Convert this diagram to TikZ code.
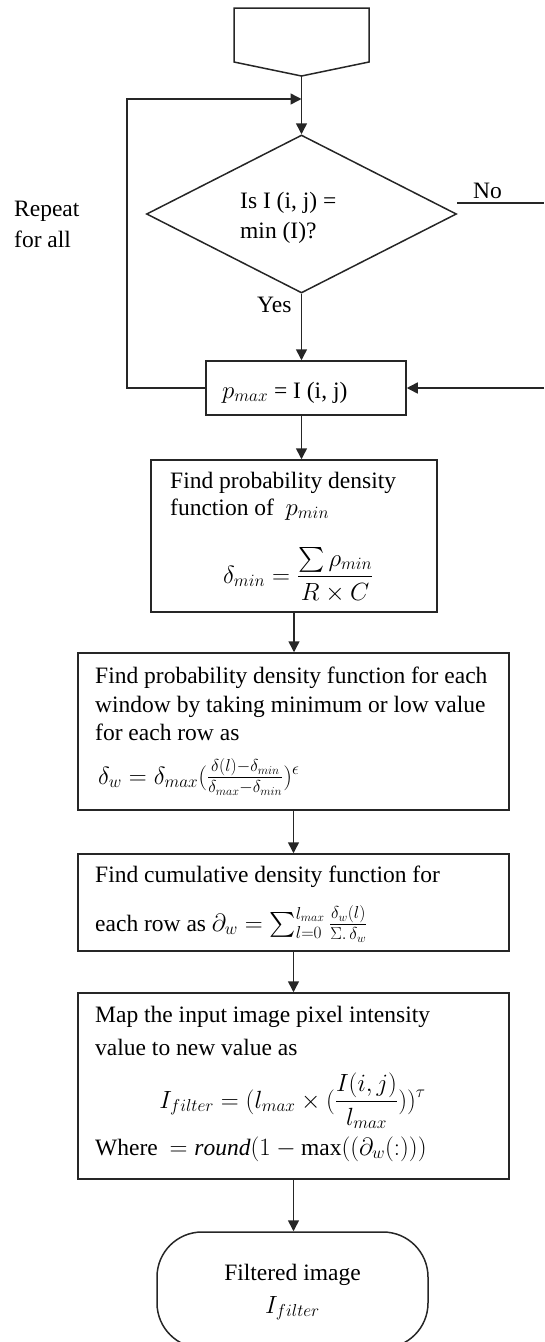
\documentclass[tikz,border=0pt]{standalone}
\usepackage{exscale}
\usepackage{fontspec}
\setmainfont{Liberation Serif}
\usetikzlibrary{arrows.meta,shapes.geometric}
\tikzset{
  conn/.style={line width=1.5pt, draw=black!85},
  arr/.style={conn, -{Triangle[length=11pt,width=11pt]}},
  procbox/.style={draw=black!85, line width=1.5pt, rectangle, inner sep=0pt},
  decision/.style={draw=black!85, line width=1.5pt, diamond, inner sep=0pt, minimum width=310pt, minimum height=158pt},
  termbox/.style={draw=black!85, line width=1.5pt, rectangle, rounded corners=45pt, inner sep=0pt},
  txt/.style={anchor=base west, inner sep=0pt, font=\fontsize{23.5}{28}\selectfont},
  ctxt/.style={anchor=base, inner sep=0pt, font=\fontsize{23.5}{28}\selectfont}
}
\begin{document}
\begin{tikzpicture}[x=1pt,y=-1pt]
\useasboundingbox (0,0) rectangle (544,1342);
\clip (0,0) rectangle (544,1342);
% off-page connector
\draw[conn] (234,8) -- (369,8) -- (369,62) -- (301.5,76) -- (234,62) -- cycle;
\coordinate (offp) at (301.5,76);
\coordinate (join) at (301.5,99);
\coordinate (lx) at (127,0);
\coordinate (noend) at (544,203);
\coordinate (inr) at (544,388);

% nodes
\node[decision] (dia) at (301.5,214) {};
\node[procbox, minimum width=200pt, minimum height=54pt] (pmax) at (306,388) {};
\node[procbox, minimum width=286pt, minimum height=152pt] (box2) at (294,536) {};
\node[procbox, minimum width=431pt, minimum height=157pt] (box3) at (293.5,731.5) {};
\node[procbox, minimum width=431pt, minimum height=97pt] (box4) at (293.5,902.5) {};
\node[procbox, minimum width=431pt, minimum height=186pt] (box5) at (293.5,1086) {};
\node[termbox, minimum width=271pt, minimum height=116pt] (term) at (292.5,1290) {};

% texts
\node[txt] (d1) at (240,208) {Is I (i, j) =};
\node[txt] (d2) at (240,238) {min (I)?};
\node[txt] (rep1) at (14,216) {Repeat};
\node[txt] (rep2) at (14,247) {for all};
\node[txt] (yes) at (257,312) {Yes};
\node[txt] (no) at (473,198) {No};
\node[txt] (pt) at (222,398) {$p_{max}$ = I (i, j)};

\node[txt] (b2a) at (170,488) {Find probability density};
\node[txt] (b2b) at (170,515) {function of \ $p_{min}$};
\node[txt] (b2c) at (223,583) {$\displaystyle \delta_{min} = \frac{\sum \rho_{min}}{R\times C}$};

\node[txt] (b3a) at (95,683) {Find probability density function for each};
\node[txt] (b3b) at (95,712) {window by taking minimum or low value};
\node[txt] (b3c) at (95,740) {for each row as};
\node[txt] (b3d) at (98,784) {$\delta_w = \delta_{max}(\frac{\delta(l)-\delta_{min}}{\delta_{max}-\delta_{min}})^{\epsilon}$};

\node[txt] (b4a) at (95,882) {Find cumulative density function for};
\node[txt] (b4b) at (95,931) {each row as $\partial_w = \sum_{l=0}^{l_{max}} \frac{\delta_w(l)}{\Sigma.\,\delta_w}$};

\node[txt] (b5a) at (95,1022) {Map the input image pixel intensity};
\node[txt] (b5b) at (95,1055) {value to new value as};
\node[ctxt] (b5c) at (292.5,1108) {$\displaystyle I_{filter} = (l_{max}\times(\frac{I(i,j)}{l_{max}}))^{\tau}$};
\node[txt] (b5d) at (95,1155) {Where \ $= \mathit{round}(1-\max((\partial_w(:)))$};

\node[ctxt] (t1) at (292.5,1280) {Filtered image};
\node[ctxt] (t2) at (292.5,1313) {$I_{filter}$};

% connectors
\draw[arr] (offp) -- (dia.north);
\draw[arr] (pmax.west) -- (pmax.west -| lx) |- (join);
\draw[arr] (dia.south) -- (dia.south |- pmax.north);
\draw[conn] ([yshift=11pt]dia.east) -- (noend);
\draw[arr] (inr) -- (pmax.east);
\draw[arr] (pmax.south -| dia.south) -- (dia.south |- box2.north);
\draw[arr] (box2.south) -- (box2.south |- box3.north);
\draw[arr] (box3.south) -- (box3.south |- box4.north);
\draw[arr] (box4.south) -- (box4.south |- box5.north);
\draw[arr] (box5.south) -- (box5.south |- term.north);
\end{tikzpicture}
\end{document}
